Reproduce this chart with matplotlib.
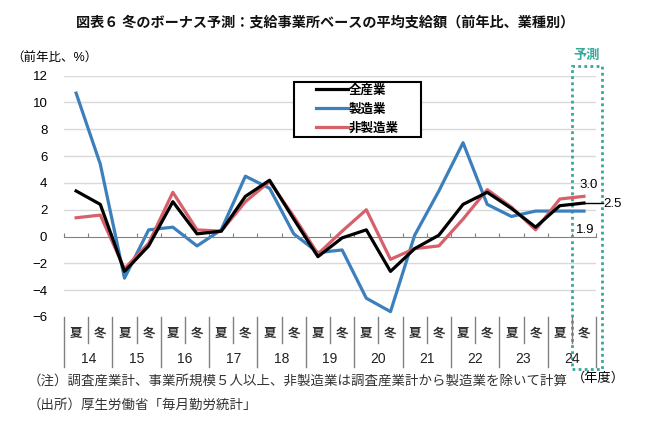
import numpy as np
import matplotlib
matplotlib.use("Agg")
import matplotlib.pyplot as plt
from matplotlib.patches import Rectangle

plt.rcParams['font.family'] = ['Liberation Sans', 'Noto Sans CJK JP', 'DejaVu Sans']

# データ（前年比、%）
seasons = ["夏", "冬"] * 11
years = ["14", "15", "16", "17", "18", "19", "20", "21", "22", "23", "24"]
zen_sangyo = [3.4, 2.4, -2.6, -0.7, 2.6, 0.2, 0.4, 3.0, 4.2, 1.3, -1.5,
              -0.1, 0.5, -2.6, -0.9, 0.1, 2.4, 3.3, 2.1, 0.7, 2.3, 2.5]
seizo = [10.7, 5.4, -3.1, 0.5, 0.7, -0.7, 0.5, 4.5, 3.6, 0.2, -1.2,
         -1.0, -4.6, -5.6, 0.1, 3.4, 7.0, 2.4, 1.5, 1.9, 1.9, 1.9]
hi_seizo = [1.4, 1.6, -2.4, -0.5, 3.3, 0.5, 0.4, 2.6, 4.1, 1.5, -1.3,
            0.4, 2.0, -1.7, -0.9, -0.7, 1.3, 3.5, 2.2, 0.5, 2.8, 3.0]

x = np.arange(len(seasons))
teal = "#35a898"

fig = plt.figure(figsize=(6.5, 4.24), dpi=100)
ax = fig.add_axes([0.0985, 0.2524, 0.8185, 0.5691])

for v in [-4, -2, 2, 4, 6, 8, 10, 12]:
    ax.axhline(v, color="#d9d9d9", lw=1, zorder=0)

ax.plot(x, zen_sangyo, color="black", lw=2.3, label="全産業", zorder=3)
ax.plot(x, seizo, color="#3b7fbc", lw=2.3, label="製造業", zorder=2)
ax.plot(x, hi_seizo, color="#d6616b", lw=2.3, label="非製造業", zorder=2)

ax.set_xlim(-0.5, len(x) - 0.5)
ax.set_ylim(-6, 12)
ax.set_yticks(range(-6, 13, 2))
ax.tick_params(axis="y", length=0, labelsize=9.5, pad=12)

for s in ["top", "right", "left"]:
    ax.spines[s].set_visible(False)
ax.spines["bottom"].set_position(("data", 0))
ax.spines["bottom"].set_color("#808080")
ax.set_xticks(np.arange(-0.5, len(x), 1))
ax.set_xticklabels([])
ax.tick_params(axis="x", direction="in", length=3, color="#808080")

# 横軸の表
for k in range(len(x) + 1):
    bottom = -9.7 if k % 2 == 0 else -7.95
    ax.plot([k - 0.5, k - 0.5], [-6, bottom], color="#808080", lw=1, clip_on=False)
for i, s in enumerate(seasons):
    ax.text(i, -7.27, s, ha="center", va="center", fontsize=9, fontweight="bold", color="#333333")
for j, y in enumerate(years):
    ax.text(2 * j + 0.5, -9.1, y, ha="center", va="center", fontsize=10, color="#222222")

# 予測の枠
ax.add_patch(Rectangle((20.5, -9.87), 1.24, 22.6, fill=False, ls=(0, (1, 1.2)),
                       lw=2, edgecolor=teal, clip_on=False))
ax.text(21.1, 13.45, "予測", ha="center", va="center", fontsize=9.5,
        fontweight="bold", color=teal)

ax.text(21.21, 3.86, "3.0", ha="center", va="center", fontsize=9.5)
ax.plot([21, 21.8], [2.5, 2.5], color="black", lw=1, clip_on=False)
ax.text(22.16, 2.45, "2.5", ha="center", va="center", fontsize=9.5)
ax.text(21.05, 0.5, "1.9", ha="center", va="center", fontsize=9.5)

# 凡例
leg = ax.legend(loc="upper left", bbox_to_anchor=(0.4737, 0.964),
                prop={"size": 9, "weight": "bold"},
                frameon=False, handlelength=2.55, handletextpad=0.05, labelspacing=0.55,
                borderpad=0, borderaxespad=0)
leg.set_zorder(6)
ax.add_patch(Rectangle((0.4323, 0.746), 0.2387, 0.229, transform=ax.transAxes,
                       facecolor="white", edgecolor="black", lw=1.5, zorder=5))

fig.text(0.5, 0.948, "図表６ 冬のボーナス予測：支給事業所ベースの平均支給額（前年比、業種別）",
         ha="center", va="center", fontsize=10.2, fontweight="bold", color="#111111")
fig.text(0.018, 0.861, "（前年比、%）", ha="left", va="center", fontsize=9)
fig.text(598 / 650, 1 - 378 / 424, "（年度）", ha="center", va="center", fontsize=9.5)
fig.text(0.043, 1 - 381 / 424,
         "（注）調査産業計、事業所規模５人以上、非製造業は調査産業計から製造業を除いて計算",
         ha="left", va="center", fontsize=9.7, color="#333333")
fig.text(0.043, 1 - 405 / 424, "（出所）厚生労働省「毎月勤労統計」",
         ha="left", va="center", fontsize=9.7, color="#333333")

fig.savefig("out.png", dpi=100)
